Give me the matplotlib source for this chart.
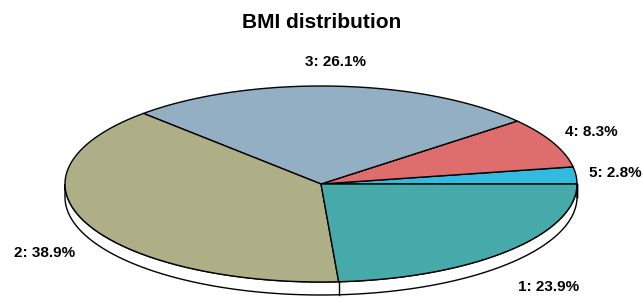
import numpy as np
import matplotlib
matplotlib.use("Agg")
import matplotlib.pyplot as plt
from matplotlib.patches import Polygon

plt.rcParams['font.family'] = ['Liberation Sans', 'DejaVu Sans']

# data (counter-clockwise from 3 o'clock)
labels = ["5", "4", "3", "2", "1"]
values = [2.8, 8.3, 26.1, 38.9, 23.9]
colors = ["#33BBDF", "#DE6E6E", "#92AFC4", "#AEAF87", "#47AAAA"]

# layout in pixels
W, H = 643, 299
cx, cy = 321, 184
rx, ry = 256, 98
side_h = 13

fig = plt.figure(figsize=(W / 100, H / 100), dpi=100)
ax = fig.add_axes([0, 0, 1, 1])
ax.set_xlim(0, W)
ax.set_ylim(H, 0)
ax.axis("off")


def ell(t, dy=0):
    return cx + rx * np.cos(t), cy - ry * np.sin(t) + dy


# side of the pie (front half)
t = np.linspace(np.pi, 2 * np.pi, 200)
x0, y0 = ell(t)
x1, y1 = ell(t[::-1], side_h)
ax.add_patch(Polygon(np.column_stack([np.r_[x0, x1], np.r_[y0, y1]]),
                     closed=True, facecolor="white", edgecolor="black", lw=1.0))

fracs = np.array(values) / sum(values)
bounds = np.r_[0, np.cumsum(fracs)] * 2 * np.pi

# vertical edges on the front side
for b in bounds:
    if np.sin(b) <= 1e-9:
        xb, yb = ell(b)
        ax.plot([xb, xb], [yb, yb + side_h], color="black", lw=1.0)

# top of the pie
for i, c in enumerate(colors):
    tt = np.linspace(bounds[i], bounds[i + 1], 100)
    xs, ys = ell(tt)
    pts = np.column_stack([np.r_[cx, xs], np.r_[cy, ys]])
    ax.add_patch(Polygon(pts, closed=True, facecolor=c, edgecolor="black", lw=1.0))

# labels
for i, lab in enumerate(labels):
    m = (bounds[i] + bounds[i + 1]) / 2
    cm, sm = np.cos(m), np.sin(m)
    if abs(cm) < 0.3:
        ha = "center"
    else:
        ha = "left" if cm > 0 else "right"
    lx = cx + 1.05 * rx * cm
    ly = cy - 1.25 * ry * sm + (side_h + 6 if sm < 0 else 0)
    ax.text(lx, ly, f"{lab}: {values[i]}%", ha=ha, va="center",
            fontsize=11, fontweight="bold")

ax.text(W / 2, 23, "BMI distribution", ha="center", va="center",
        fontsize=15, fontweight="bold")

fig.savefig("out.png", dpi=100)
